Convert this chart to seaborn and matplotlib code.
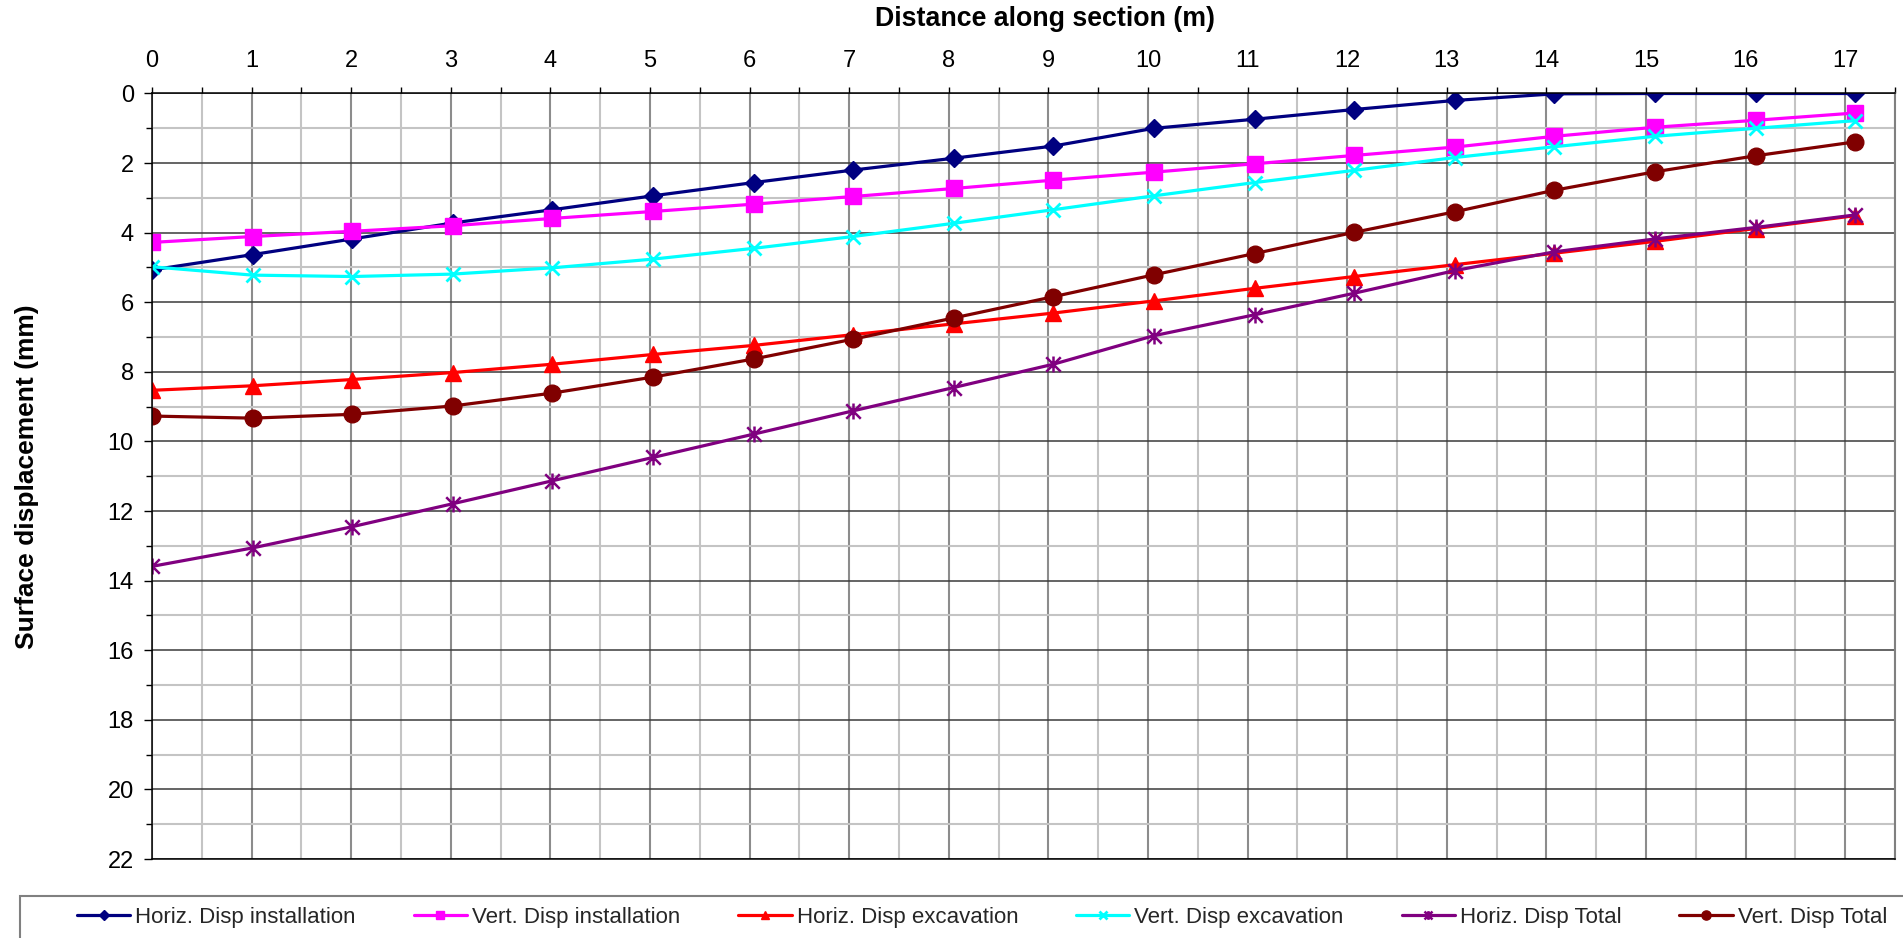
import matplotlib
matplotlib.use("Agg")
import matplotlib.pyplot as plt
from matplotlib.path import Path
from matplotlib.ticker import MultipleLocator
from matplotlib.patches import Rectangle
import seaborn as sns

# Distance along the section (m) of each survey point
distance = [0.00, 1.01, 2.01, 3.02, 4.02, 5.03, 6.04, 7.04, 8.05, 9.05,
            10.06, 11.07, 12.07, 13.08, 14.08, 15.09, 16.10, 17.10]

# Surface displacements (mm)
horiz_install = [5.07, 4.63, 4.18, 3.72, 3.34, 2.94, 2.56, 2.20, 1.86, 1.51,
                 1.00, 0.74, 0.46, 0.20, 0.01, 0.00, 0.00, 0.00]
vert_install = [4.28, 4.11, 3.96, 3.80, 3.59, 3.39, 3.18, 2.96, 2.73, 2.49,
                2.26, 2.02, 1.78, 1.54, 1.23, 0.97, 0.77, 0.56]
horiz_excav = [8.53, 8.40, 8.22, 8.02, 7.78, 7.50, 7.24, 6.93, 6.62, 6.31,
               5.96, 5.60, 5.26, 4.92, 4.59, 4.25, 3.88, 3.51]
vert_excav = [4.98, 5.22, 5.26, 5.19, 5.01, 4.76, 4.45, 4.11, 3.73, 3.34,
              2.94, 2.56, 2.21, 1.84, 1.53, 1.23, 1.00, 0.78]
horiz_total = [13.59, 13.06, 12.45, 11.79, 11.13, 10.46, 9.79, 9.12, 8.45, 7.78,
               6.96, 6.36, 5.74, 5.09, 4.55, 4.18, 3.85, 3.49]
vert_total = [9.27, 9.33, 9.22, 8.98, 8.61, 8.15, 7.63, 7.06, 6.45, 5.84,
              5.21, 4.60, 3.99, 3.40, 2.78, 2.25, 1.79, 1.39]

series_names = ["Horiz. Disp installation", "Vert. Disp installation",
                "Horiz. Disp excavation", "Vert. Disp excavation",
                "Horiz. Disp Total", "Vert. Disp Total"]
series_values = [horiz_install, vert_install, horiz_excav,
                 vert_excav, horiz_total, vert_total]
series_colors = ["#000080", "#FF00FF", "#FF0000", "#00FFFF", "#800080", "#800000"]

# Asterisk marker: an X crossed by a vertical stroke
asterisk = Path([(-1, -1), (1, 1), (-1, 1), (1, -1), (0, -1.1), (0, 1.1)],
                [Path.MOVETO, Path.LINETO] * 3)

marker_styles = [
    dict(marker="D", markersize=9, markeredgewidth=1),
    dict(marker="s", markersize=11, markeredgewidth=1),
    dict(marker="^", markersize=11.5, markeredgewidth=1),
    dict(marker="x", markersize=10.5, markeredgewidth=2.0),
    dict(marker=asterisk, markersize=11.5, markeredgewidth=1.8, markerfacecolor="none"),
    dict(marker="o", markersize=12, markeredgewidth=1),
]

sns.set_theme(style="white")
plt.rcParams["font.family"] = ["Liberation Sans", "DejaVu Sans"]

W, H = 1903, 938
fig = plt.figure(figsize=(W / 100, H / 100), dpi=100)
ax = fig.add_axes([152 / W, 1 - 859 / H, (1895 - 152) / W, (859 - 93.5) / H])

for name, vals, col, mk in zip(series_names, series_values, series_colors, marker_styles):
    style = dict(mk)
    style.setdefault("markerfacecolor", col)
    sns.lineplot(x=distance, y=vals, ax=ax, color=col, linewidth=2.3,
                 markeredgecolor=col, label=name, sort=False,
                 errorbar=None, **style)

if ax.get_legend() is not None:
    ax.get_legend().remove()

ax.set_xlim(0, 17.5)
ax.set_ylim(22, 0)
ax.xaxis.set_major_locator(MultipleLocator(1))
ax.xaxis.set_minor_locator(MultipleLocator(0.5))
ax.yaxis.set_major_locator(MultipleLocator(2))
ax.yaxis.set_minor_locator(MultipleLocator(1))

ax.grid(True, which="major", axis="x", color="#8c8c8c", lw=1.5)
ax.grid(True, which="minor", axis="x", color="#c4c4c4", lw=1.5)
ax.grid(True, which="major", axis="y", color="#3a3a3a", lw=1.1)
ax.grid(True, which="minor", axis="y", color="#c4c4c4", lw=1.5)
ax.set_axisbelow(True)

ax.xaxis.tick_top()
ax.tick_params(axis="x", which="both", top=True, bottom=False, direction="out",
               length=4.5, width=1, color="black", labelsize=17, pad=11,
               labelcolor="black")
ax.tick_params(axis="y", which="major", left=True, direction="out", length=6,
               width=1, color="black", labelsize=17, pad=7, labelcolor="black")
ax.tick_params(axis="y", which="minor", left=True, direction="out", length=4,
               width=1, color="black")

for side in ("left", "top", "bottom"):
    ax.spines[side].set_color("black")
    ax.spines[side].set_linewidth(1.1)
ax.spines["right"].set_color("#808080")
ax.spines["right"].set_linewidth(1.5)

ax.xaxis.set_label_position("top")
ax.set_xlabel("Distance along section (m)", fontsize=19.3, fontweight="bold", color="black")
ax.xaxis.label.set_va("center")
ax.xaxis.set_label_coords((1045 - 152) / (1895 - 152), (859 - 19.5) / (859 - 93.5))
ax.set_ylabel("Surface displacement (mm)", fontsize=19, fontweight="bold", color="black")
ax.yaxis.label.set_va("center")
ax.yaxis.set_label_coords((27 - 152) / (1895 - 152), 0.5)

handles, labels = ax.get_legend_handles_labels()
fig.legend(handles, labels, loc="center left", bbox_to_anchor=(77 / W, 1 - 917 / H),
           ncol=6, frameon=False, fontsize=16, handlelength=2.4,
           handletextpad=0.23, columnspacing=2.6, borderpad=0,
           borderaxespad=0, markerscale=0.55)

legend_top = 1 - 896 / H
fig.add_artist(Rectangle((20 / W, -0.1), 1.2, legend_top + 0.1,
                         transform=fig.transFigure, fill=False,
                         edgecolor="#808080", lw=1.5))

fig.savefig("out.png", dpi=100)
